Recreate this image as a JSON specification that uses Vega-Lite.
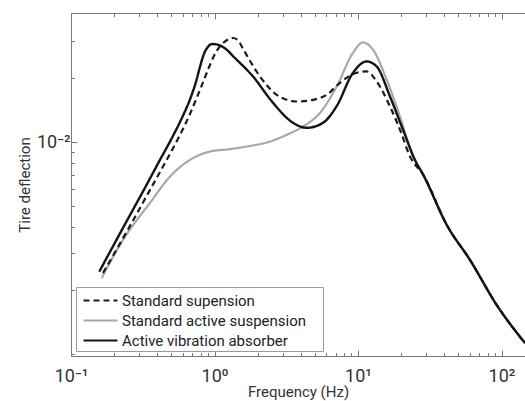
{
  "$schema": "https://vega.github.io/schema/vega-lite/v6.json",
  "width": 454,
  "height": 343,
  "autosize": {"type": "none"},
  "padding": {"left": 71, "top": 13, "right": 0, "bottom": 45},
  "background": "white",
  "config": {
    "view": {"stroke": null},
    "font": "Roboto",
    "axis": {"grid": false, "domainColor": "#7a7a7a", "tickColor": "#7a7a7a", "labelColor": "#333", "titleColor": "#333", "labelFont": "Roboto", "titleFont": "Roboto", "titleFontWeight": "normal", "titleFontSize": 15, "labelFontSize": 18},
    "legend": {
      "strokeColor": "#9a9a9a", "fillColor": "white", "padding": 2,
      "symbolType": "M-1.7,0H1.7", "symbolSize": 400, "symbolStrokeWidth": 2.2, "symbolOffset": 11,
      "labelFont": "Roboto", "labelFontSize": 15, "labelColor": "#222", "labelOffset": 10,
      "rowPadding": 0, "labelLimit": 400
    }
  },
  "data": {
    "values": [
      {"s": "Active vibration absorber", "f": 0.1574, "v": 0.002453},
      {"s": "Active vibration absorber", "f": 0.2303, "v": 0.003943},
      {"s": "Active vibration absorber", "f": 0.3175, "v": 0.005858},
      {"s": "Active vibration absorber", "f": 0.4171, "v": 0.008252},
      {"s": "Active vibration absorber", "f": 0.5055, "v": 0.01048},
      {"s": "Active vibration absorber", "f": 0.5934, "v": 0.01302},
      {"s": "Active vibration absorber", "f": 0.6752, "v": 0.01592},
      {"s": "Active vibration absorber", "f": 0.7430, "v": 0.01925},
      {"s": "Active vibration absorber", "f": 0.7925, "v": 0.02265},
      {"s": "Active vibration absorber", "f": 0.8450, "v": 0.02609},
      {"s": "Active vibration absorber", "f": 0.9010, "v": 0.02815},
      {"s": "Active vibration absorber", "f": 0.9607, "v": 0.02900},
      {"s": "Active vibration absorber", "f": 1.058, "v": 0.02877},
      {"s": "Active vibration absorber", "f": 1.216, "v": 0.02725},
      {"s": "Active vibration absorber", "f": 1.345, "v": 0.02545},
      {"s": "Active vibration absorber", "f": 1.855, "v": 0.02039},
      {"s": "Active vibration absorber", "f": 2.557, "v": 0.01532},
      {"s": "Active vibration absorber", "f": 3.524, "v": 0.01233},
      {"s": "Active vibration absorber", "f": 4.39, "v": 0.01168},
      {"s": "Active vibration absorber", "f": 5.7, "v": 0.01233},
      {"s": "Active vibration absorber", "f": 7.107, "v": 0.01480},
      {"s": "Active vibration absorber", "f": 9.23, "v": 0.02123},
      {"s": "Active vibration absorber", "f": 11.5, "v": 0.024},
      {"s": "Active vibration absorber", "f": 13.49, "v": 0.02273},
      {"s": "Active vibration absorber", "f": 16.71, "v": 0.01641},
      {"s": "Active vibration absorber", "f": 20.59, "v": 0.01143},
      {"s": "Active vibration absorber", "f": 24.95, "v": 0.008252},
      {"s": "Active vibration absorber", "f": 28.4, "v": 0.007040},
      {"s": "Active vibration absorber", "f": 41.7, "v": 0.004055},
      {"s": "Active vibration absorber", "f": 60.3, "v": 0.002786},
      {"s": "Active vibration absorber", "f": 93.0, "v": 0.001700},
      {"s": "Active vibration absorber", "f": 145.8, "v": 0.00113},

      {"s": "Standard supension", "f": 0.1671, "v": 0.002418},
      {"s": "Standard supension", "f": 0.2577, "v": 0.004029},
      {"s": "Standard supension", "f": 0.3552, "v": 0.005957},
      {"s": "Standard supension", "f": 0.4644, "v": 0.008252},
      {"s": "Standard supension", "f": 0.5566, "v": 0.01036},
      {"s": "Standard supension", "f": 0.6752, "v": 0.01359},
      {"s": "Standard supension", "f": 0.7925, "v": 0.01765},
      {"s": "Standard supension", "f": 0.9010, "v": 0.02193},
      {"s": "Standard supension", "f": 0.9920, "v": 0.02553},
      {"s": "Standard supension", "f": 1.092, "v": 0.02831},
      {"s": "Standard supension", "f": 1.203, "v": 0.03005},
      {"s": "Standard supension", "f": 1.345, "v": 0.03095},
      {"s": "Standard supension", "f": 1.458, "v": 0.03021},
      {"s": "Standard supension", "f": 1.579, "v": 0.02754},
      {"s": "Standard supension", "f": 2.075, "v": 0.02039},
      {"s": "Standard supension", "f": 2.713, "v": 0.01671},
      {"s": "Standard supension", "f": 3.739, "v": 0.01554},
      {"s": "Standard supension", "f": 4.858, "v": 0.01583},
      {"s": "Standard supension", "f": 6.052, "v": 0.01671},
      {"s": "Standard supension", "f": 7.49, "v": 0.01904},
      {"s": "Standard supension", "f": 9.79, "v": 0.02123},
      {"s": "Standard supension", "f": 11.5, "v": 0.02153},
      {"s": "Standard supension", "f": 13.49, "v": 0.01931},
      {"s": "Standard supension", "f": 16.71, "v": 0.01472},
      {"s": "Standard supension", "f": 19.62, "v": 0.01143},
      {"s": "Standard supension", "f": 23.04, "v": 0.008551},
      {"s": "Standard supension", "f": 28.4, "v": 0.007040},
      {"s": "Standard supension", "f": 41.7, "v": 0.004055},
      {"s": "Standard supension", "f": 60.3, "v": 0.002786},
      {"s": "Standard supension", "f": 93.0, "v": 0.001700},
      {"s": "Standard supension", "f": 145.8, "v": 0.00113},

      {"s": "Standard active suspension", "f": 0.1637, "v": 0.002291},
      {"s": "Standard active suspension", "f": 0.2303, "v": 0.003459},
      {"s": "Standard active suspension", "f": 0.3552, "v": 0.005172},
      {"s": "Standard active suspension", "f": 0.4898, "v": 0.006885},
      {"s": "Standard active suspension", "f": 0.6752, "v": 0.008252},
      {"s": "Standard active suspension", "f": 0.9302, "v": 0.00903},
      {"s": "Standard active suspension", "f": 1.282, "v": 0.009268},
      {"s": "Standard active suspension", "f": 1.677, "v": 0.009533},
      {"s": "Standard active suspension", "f": 2.437, "v": 0.01007},
      {"s": "Standard active suspension", "f": 3.185, "v": 0.01083},
      {"s": "Standard active suspension", "f": 4.137, "v": 0.01185},
      {"s": "Standard active suspension", "f": 5.435, "v": 0.01374},
      {"s": "Standard active suspension", "f": 7.107, "v": 0.01829},
      {"s": "Standard active suspension", "f": 9.23, "v": 0.02637},
      {"s": "Standard active suspension", "f": 10.83, "v": 0.0295},
      {"s": "Standard active suspension", "f": 12.72, "v": 0.02725},
      {"s": "Standard active suspension", "f": 15.85, "v": 0.01967},
      {"s": "Standard active suspension", "f": 19.62, "v": 0.0132},
      {"s": "Standard active suspension", "f": 24.17, "v": 0.008551},
      {"s": "Standard active suspension", "f": 28.4, "v": 0.007040},
      {"s": "Standard active suspension", "f": 41.7, "v": 0.004055},
      {"s": "Standard active suspension", "f": 60.3, "v": 0.002786},
      {"s": "Standard active suspension", "f": 93.0, "v": 0.001700},
      {"s": "Standard active suspension", "f": 145.8, "v": 0.00113}
    ]
  },
  "layer": [
    {
      "encoding": {
        "x": {
          "field": "f", "type": "quantitative",
          "scale": {"type": "log", "domain": [0.1, 145.8], "nice": false},
          "axis": {
            "title": "Frequency (Hz)", "orient": "bottom",
            "values": [0.1,0.2,0.3,0.4,0.5,0.6,0.7,0.8,0.9,1,2,3,4,5,6,7,8,9,10,20,30,40,50,60,70,80,90,100],
            "labelExpr": "datum.value == 0.1 ? '10⁻¹' : datum.value == 1 ? '10⁰' : datum.value == 10 ? '10¹' : datum.value == 100 ? '10²' : ''",
            "tickSize": {"condition": {"test": "datum.value == 0.1 || datum.value == 1 || datum.value == 10 || datum.value == 100", "value": -6}, "value": -3.5},
            "labelPadding": 17, "labelFlush": false, "labelOverlap": false, "titlePadding": -3
          }
        },
        "y": {
          "field": "v", "type": "quantitative",
          "scale": {"type": "log", "domain": [0.000982, 0.0406], "nice": false},
          "axis": {
            "title": "Tire deflection",
            "values": [0.001,0.002,0.003,0.004,0.005,0.006,0.007,0.008,0.009,0.01,0.02,0.03],
            "labelExpr": "datum.value == 0.01 ? '10⁻²' : ''",
            "tickSize": {"condition": {"test": "datum.value == 0.01", "value": -6}, "value": -3.5},
            "labelPadding": 7, "labelOverlap": false, "titlePadding": 4
          }
        },
        "color": {
          "field": "s", "type": "nominal",
          "scale": {"domain": ["Standard supension", "Standard active suspension", "Active vibration absorber"], "range": ["#1c1c1c", "#a8a8a8", "#141414"]},
          "legend": {"title": "x", "titleOrient": "right", "titleOpacity": 0, "titleFontSize": 4, "titlePadding": 12, "orient": "bottom-left", "offset": 5}
        },
        "strokeDash": {
          "field": "s", "type": "nominal",
          "scale": {"domain": ["Standard supension", "Standard active suspension", "Active vibration absorber"], "range": [[6, 4], [1, 0], [1, 0]]},
          "legend": {"title": "x", "titleOrient": "right", "titleOpacity": 0, "titleFontSize": 4, "titlePadding": 12, "orient": "bottom-left", "offset": 5}
        }
      },
      "layer": [
        {
          "transform": [{"filter": "datum.s == 'Standard active suspension'"}],
          "mark": {"type": "line", "interpolate": "monotone", "strokeWidth": 2.2, "clip": true}
        },
        {
          "transform": [{"filter": "datum.s == 'Standard supension'"}],
          "mark": {"type": "line", "interpolate": "monotone", "strokeWidth": 2.2, "clip": true}
        },
        {
          "transform": [{"filter": "datum.s == 'Active vibration absorber'"}],
          "mark": {"type": "line", "interpolate": "monotone", "strokeWidth": 2.4, "clip": true}
        }
      ]
    },
    {
      "mark": {"type": "line", "opacity": 0, "clip": true},
      "encoding": {
        "x": {
          "field": "f", "type": "quantitative",
          "axis": {
            "title": null, "orient": "top", "labels": false,
            "values": [0.1,0.2,0.3,0.4,0.5,0.6,0.7,0.8,0.9,1,2,3,4,5,6,7,8,9,10,20,30,40,50,60,70,80,90,100],
            "tickSize": {"condition": {"test": "datum.value == 0.1 || datum.value == 1 || datum.value == 10 || datum.value == 100", "value": -6}, "value": -3.5}
          }
        },
        "y": {"field": "v", "type": "quantitative"},
        "detail": {"field": "s"}
      }
    }
  ],
  "resolve": {"axis": {"x": "independent"}}
}
